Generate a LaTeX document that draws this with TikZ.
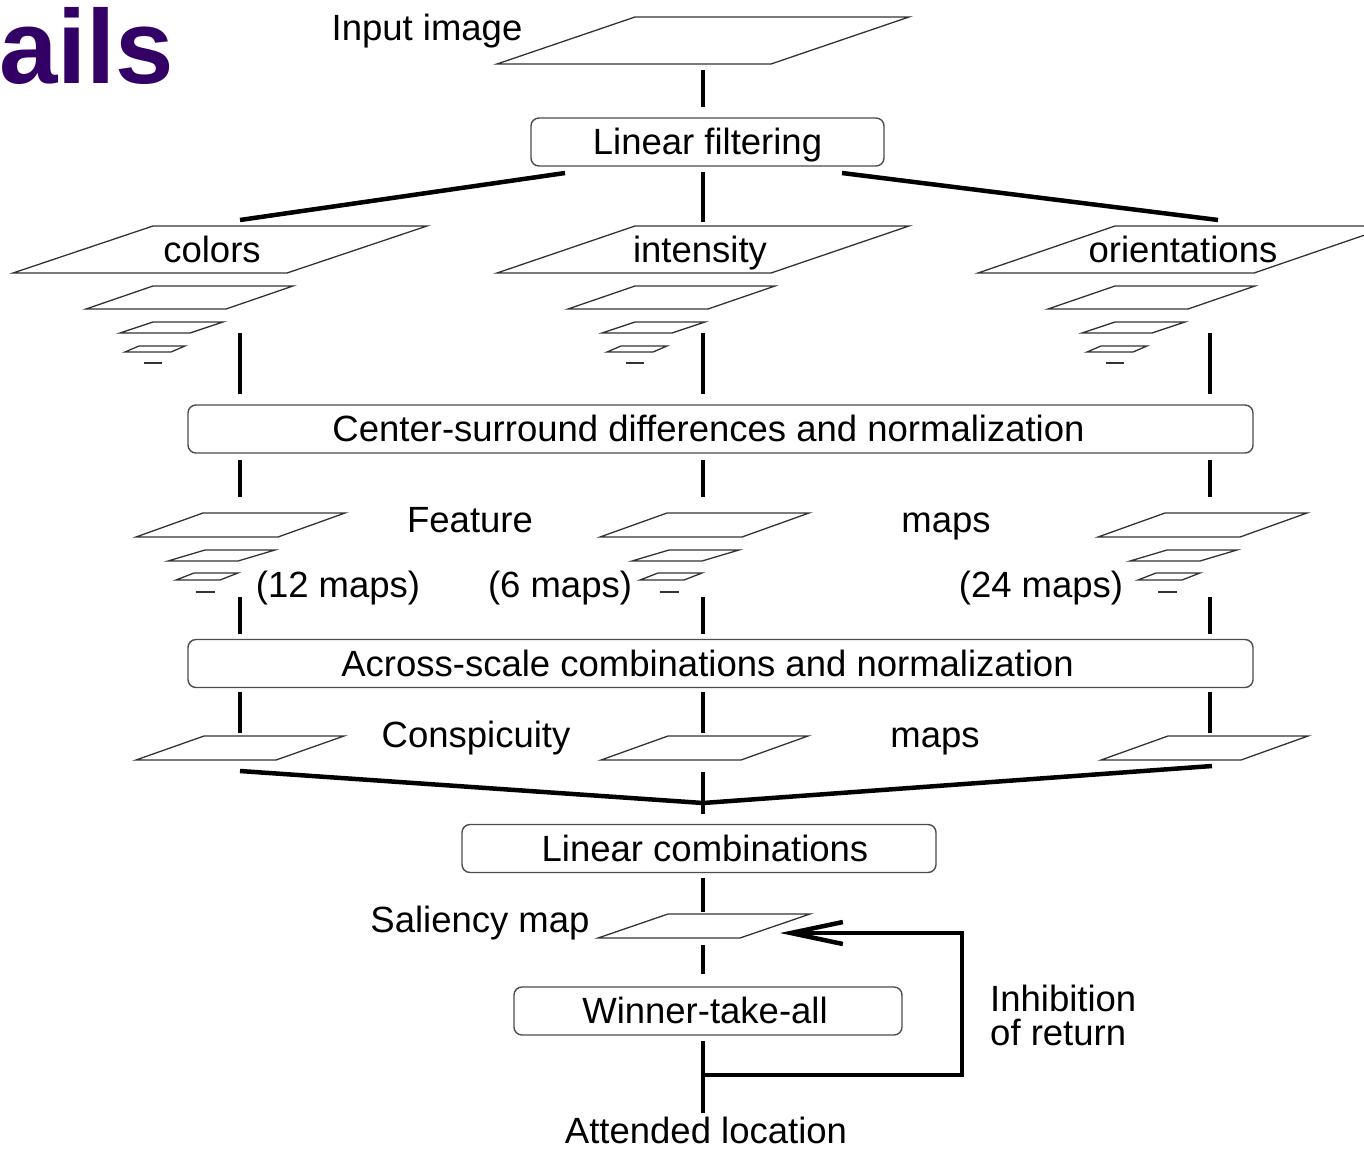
\documentclass[tikz,border=0pt]{standalone}
\usepackage{fontspec}
\setmainfont{Liberation Sans}
\usetikzlibrary{arrows.meta}
\definecolor{titlepurple}{RGB}{51,0,102}
\newcommand\lblfont{\fontsize{36.5}{42}\selectfont}
\newcommand\plane[5]{\draw[plane] (#1,#2) -- ++(#3,0) -- ++(-#4,#5) -- ++(-#3,0) -- cycle;}
\begin{document}
\begin{tikzpicture}[x=1pt,y=-1pt,
  conn/.style={line width=4.5pt},
  plane/.style={draw=black!80, line width=1.3pt, line join=miter},
  stage/.style={draw=black!70, line width=1.4pt, rounded corners=8pt, inner sep=0pt,
    font=\lblfont, text height=25pt, text depth=0pt, minimum height=48pt},
  lbl/.style={font=\lblfont, inner sep=0pt, anchor=base}]
\useasboundingbox (0,0) rectangle (1364,1151);
\clip (0,0) rectangle (1364,1151);

% title fragment
\node[anchor=base west, inner sep=0pt, font=\fontsize{105}{112}\selectfont\bfseries, text=titlepurple] (ttl) at (-1,83) {ails};

% input image
\plane{635}{17}{274}{138}{47}
\node[lbl] (inlbl) at (427,40) {Input image};

% boxes
\node[stage, minimum width=353pt] (lf) at (707.5,142) {Linear filtering};
\node[stage, minimum width=1065pt] (cs) at (720.5,429) {\hspace*{-24pt}Center-surround differences and normalization};
\node[stage, minimum width=1065pt] (ac) at (720.5,663.5) {\hspace*{-26pt}Across-scale combinations and normalization};
\node[stage, minimum width=474pt] (lc) at (699,848.5) {\hspace*{12pt}Linear combinations};
\node[stage, minimum width=388pt] (wta) at (708,1011) {\hspace*{-6pt}Winner-take-all};

% big feature planes
\plane{153}{226}{274}{140}{47}
\plane{635}{226}{274}{138}{47}
\plane{1115}{226}{276}{137}{47}
\node[lbl] (colors) at (212,262) {colors};
\node[lbl] (intens) at (700,262) {intensity};
\node[lbl] (orient) at (1183,262) {orientations};

% pyramids
\foreach \X in {153,635,1115}{
  \plane{\X}{286}{140}{67}{23}
  \plane{\X}{322}{70}{33}{11}
  \plane{\X-14}{346}{46}{14}{6}
  \draw[plane] (\X-9,363) -- (\X+9,363);
}

% feature maps
\foreach \X in {203,667,1165}{
  \plane{\X}{513}{142}{67}{24}
  \plane{\X+2}{550}{70}{37}{11}
  \plane{\X-9}{573}{44}{18}{7}
  \draw[plane] (\X-7,592) -- (\X+12,592);
}
\node[lbl] (feat) at (470,532) {Feature};
\node[lbl] (fmaps) at (946,532) {maps};
\node[lbl] (m12) at (338,597) {(12 maps)};
\node[lbl] (m6) at (560,597) {(6 maps)};
\node[lbl] (m24) at (1041,597) {(24 maps)};

% conspicuity maps
\plane{204}{736}{140}{68}{24}
\plane{668}{736}{140}{67}{24}
\plane{1168}{736}{140}{67}{24}
\node[lbl] (consp) at (476,747) {Conspicuity};
\node[lbl] (cmaps) at (935,747) {maps};

% saliency map
\plane{668}{914}{142}{70}{24}
\node[lbl] (sal) at (480,932) {Saliency map};

% labels bottom
\node[lbl, anchor=base west] (inh1) at (990,1011) {Inhibition};
\node[lbl, anchor=base west] (inh2) at (990,1045) {of return};
\node[lbl] (att) at (706,1143) {Attended location};

% connector coordinates
\coordinate (c0) at (703,70);
\coordinate (c1) at (703,107);
\coordinate (m) at (703,803);
\coordinate (loopR) at (962,1075);
\coordinate (salR) at (780,933);
\coordinate (wtaJ) at (703,1075);

% connectors
\draw[conn] (c0) -- (c1);
\draw[conn] (703,172) -- (703,222);
\draw[conn] (565,173) -- (240,220);
\draw[conn] (842,173) -- (1218,220);
\foreach \C in {240,703,1210}{
  \draw[conn] (\C,333) -- (\C,394);
  \draw[conn] (\C,460) -- (\C,497);
  \draw[conn] (\C,597) -- (\C,634);
  \draw[conn] (\C,692) -- (\C,733);
}
\draw[conn] (240,771) -- (m) -- (1212,766);
\draw[conn] (703,772) -- (703,814);
\draw[conn] (703,878) -- (703,912);
\draw[conn] (703,945) -- (703,974);
\draw[conn] (703,1041) -- (703,1113);
\draw[conn, -{Straight Barb[length=52pt,width=22pt]}] (wtaJ) -- (loopR) |- (salR);
\end{tikzpicture}
\end{document}
